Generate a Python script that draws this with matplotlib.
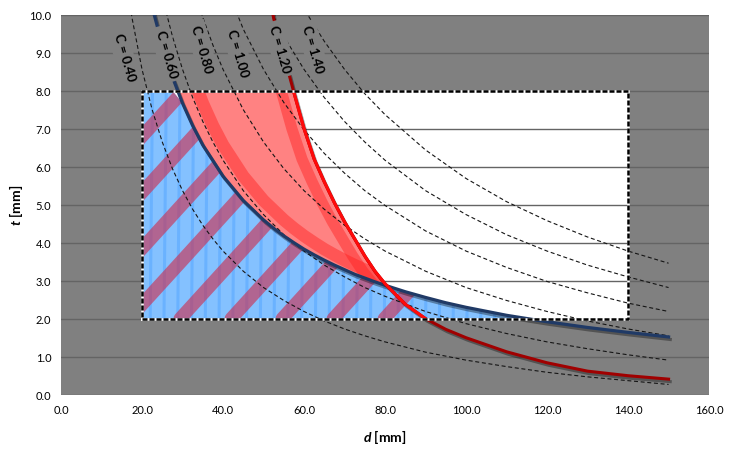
import numpy as np
import matplotlib.pyplot as plt
from matplotlib import patheffects as pe
from matplotlib.patches import Rectangle

plt.rcParams['font.family'] = ['Lato', 'DejaVu Sans']
plt.rcParams['mathtext.fontset'] = 'custom'
plt.rcParams['mathtext.it'] = 'Lato:italic:bold'
plt.rcParams['mathtext.rm'] = 'Lato:bold'

nan = np.nan

d_c = [15, 17.5, 20, 22.5, 25, 27.5, 30, 32.5, 35, 37.5, 40, 45, 50, 55, 60,
       65, 70, 75, 80, 90, 100, 110, 120, 130, 140, 150]
t_c040 = [11.75, 9.93, 8.56, 7.50, 6.65, 5.95, 5.37, 4.88, 4.46, 4.10, 3.78, 3.25, 2.82, 2.48, 2.19,
          1.94, 1.73, 1.55, 1.39, 1.12, 0.91, 0.74, 0.59, 0.47, 0.37, 0.27]
t_c060 = [nan, nan, nan, 11.75, 10.47, 9.43, 8.56, 7.82, 7.19, 6.65, 6.17, 5.37, 4.74, 4.21, 3.78,
          3.41, 3.10, 2.82, 2.59, 2.19, 1.87, 1.61, 1.39, 1.21, 1.05, 0.91]
t_c080 = [nan, nan, nan, nan, nan, nan, 11.75, 10.77, 9.93, 9.20, 8.56, 7.50, 6.65, 5.95, 5.37,
          4.88, 4.46, 4.10, 3.78, 3.25, 2.82, 2.48, 2.19, 1.94, 1.73, 1.55]
t_c100 = [nan, nan, nan, nan, nan, nan, nan, nan, nan, nan, 10.95, 9.62, 8.56, 7.69, 6.97,
          6.35, 5.83, 5.37, 4.98, 4.31, 3.78, 3.35, 2.98, 2.68, 2.41, 2.19]
t_c120 = [nan, nan, nan, nan, nan, nan, nan, nan, nan, nan, nan, nan, 10.47, 9.43, 8.56,
          7.82, 7.19, 6.65, 6.17, 5.37, 4.74, 4.21, 3.78, 3.41, 3.10, 2.82]
t_c140 = [nan, nan, nan, nan, nan, nan, nan, nan, nan, nan, nan, nan, nan, 11.17, 10.15,
          9.30, 8.56, 7.92, 7.37, 6.44, 5.69, 5.08, 4.58, 4.15, 3.78, 3.46]
c_labels = ['C = 0.40', 'C = 0.60', 'C = 0.80', 'C = 1.00', 'C = 1.20', 'C = 1.40']

# limit curves
d_lim = [20, 22.5, 25, 27.5, 30, 32.5, 35, 40, 45, 50, 52.5, 55, 57.5, 60, 62.5, 65,
         67.5, 70, 72.5, 75, 77.5, 80, 85, 90, 95, 100, 110, 120, 130, 140, 150]
t_blue = [11.5, 10.2, 9.2, 8.36, 7.67, 7.08, 6.57, 5.75, 5.11, 4.6, 4.38, 4.18, 4.0, 3.83, 3.68, 3.54,
          3.41, 3.29, 3.17, 3.07, 2.97, 2.88, 2.71, 2.56, 2.42, 2.3, 2.09, 1.92, 1.77, 1.64, 1.52]
t_red = [nan, nan, nan, nan, nan, nan, nan, nan, nan, 11.4, 9.9, 8.95, 7.95, 7.0, 6.2, 5.6,
         5.05, 4.55, 4.1, 3.65, 3.25, 2.92, 2.38, 2.0, 1.72, 1.5, 1.13, 0.84, 0.62, 0.5, 0.41]

# design window
box_d = [20, 140]
box_t = [2, 8]

fig = plt.figure(figsize=(7.37, 4.56), dpi=100)
ax = fig.add_axes([0.0828, 0.1322, 0.8793, 0.8334])
ax.set_facecolor('#808080')
ax.set_xlim(0, 160)
ax.set_ylim(0, 10)
ax.set_xticks(np.arange(0, 161, 20))
ax.set_yticks(np.arange(0, 11, 1))
ax.xaxis.set_major_formatter('{x:.1f}')
ax.yaxis.set_major_formatter('{x:.1f}')
ax.tick_params(length=0, labelsize=8, pad=7)
for s in ax.spines.values():
    s.set_visible(False)
ax.set_axisbelow(True)
ax.yaxis.grid(True, color='#646464', lw=1.0)

ax.add_patch(Rectangle((box_d[0], box_t[0]), box_d[1] - box_d[0], box_t[1] - box_t[0],
                       facecolor='white', edgecolor='none', zorder=0.2))

D = np.array(d_lim)
nb = np.array(t_blue)
nr = np.array(t_red)

# blue (acceptable) region under the blue curve
blue_top = np.minimum(nb, box_t[1])
blue = ax.fill_between(D, box_t[0], blue_top, where=(nb >= box_t[0]), interpolate=True,
                       facecolor='#84c1ff', edgecolor='none', zorder=2)
blue_clip = blue.get_paths()[0]

# red region between blue and red curves
red_top = np.minimum(np.nan_to_num(nr, nan=99), box_t[1])
red = ax.fill_between(D, nb, red_top, where=(red_top >= nb), interpolate=True,
                      facecolor='#ff8282', edgecolor='none', zorder=2.2)
red_clip = red.get_paths()[0]

# highlighter strokes
for x0 in np.arange(22, 115, 3.4):
    ln, = ax.plot([x0, x0 + 0.6], [1.8, 8.2], color='#2a8cff', lw=2.2, alpha=0.28,
                  solid_capstyle='round', zorder=2.1)
    ln.set_clip_path(blue_clip, ax.transData)
for x0 in np.arange(-21, 86, 12.6):
    ln, = ax.plot([x0, x0 + 80], [2, 2 + 0.117 * 80], color='#d02848', lw=9.5, alpha=0.6,
                  solid_capstyle='round', zorder=2.4)
    ln.set_clip_path(blue_clip, ax.transData)
ln, = ax.plot(D + 5, nb, color='#ff1f1f', lw=9, alpha=0.45, zorder=2.3)
ln.set_clip_path(red_clip, ax.transData)
ln, = ax.plot(D - 3, nr, color='#ff1f1f', lw=8, alpha=0.45, zorder=2.3)
ln.set_clip_path(red_clip, ax.transData)

# dashed constant-C lines
for tc in [t_c040, t_c060, t_c080, t_c100, t_c120, t_c140]:
    ax.plot(d_c, tc, color='#151515', lw=0.8, ls=(0, (3.6, 2.4)), zorder=3)

shadow = [pe.SimpleLineShadow(offset=(1.2, -1.8), shadow_color='black', alpha=0.35), pe.Normal()]
ax.plot(D, nb, color='#203a66', lw=2.3, zorder=4, path_effects=shadow)
ax.plot(D, nr, color='#a00000', lw=2.2, zorder=4.1, path_effects=shadow)
inside = (nr <= 8.0) & (nr >= 2.0)
ax.plot(D, np.where(inside, nr, nan), color='#ff0a0a', lw=2.2, zorder=4.2)

# design window border
bx = [box_d[0], box_d[1], box_d[1], box_d[0], box_d[0]]
by = [box_t[0], box_t[0], box_t[1], box_t[1], box_t[0]]
ax.plot(bx, by, color='white', lw=1.8, zorder=5, solid_joinstyle='miter')
ax.plot(bx, by, color='black', lw=1.8, ls=(0, (2.0, 0.8)), zorder=5.1)

label_pos = [(15.6, 8.89), (26.0, 8.97), (34.8, 9.1), (43.7, 9.0), (54.0, 9.1), (62.2, 9.1)]
for (x, y), s in zip(label_pos, c_labels):
    ax.text(x, y, s, rotation=-74, rotation_mode='anchor', ha='center', va='center',
            fontsize=9.5, fontweight='bold', color='black', zorder=6,
            bbox=dict(boxstyle='square,pad=0.3', facecolor='#808080', edgecolor='none'))

ax.set_xlabel(r'$d$ [mm]', fontsize=10, fontweight='bold')
ax.xaxis.set_label_coords(0.5, -0.085)
ax.set_ylabel(r'$t$ [mm]', fontsize=10, fontweight='bold')
ax.yaxis.set_label_coords(-0.055, 0.5)

fig.savefig('out.png', dpi=100)
